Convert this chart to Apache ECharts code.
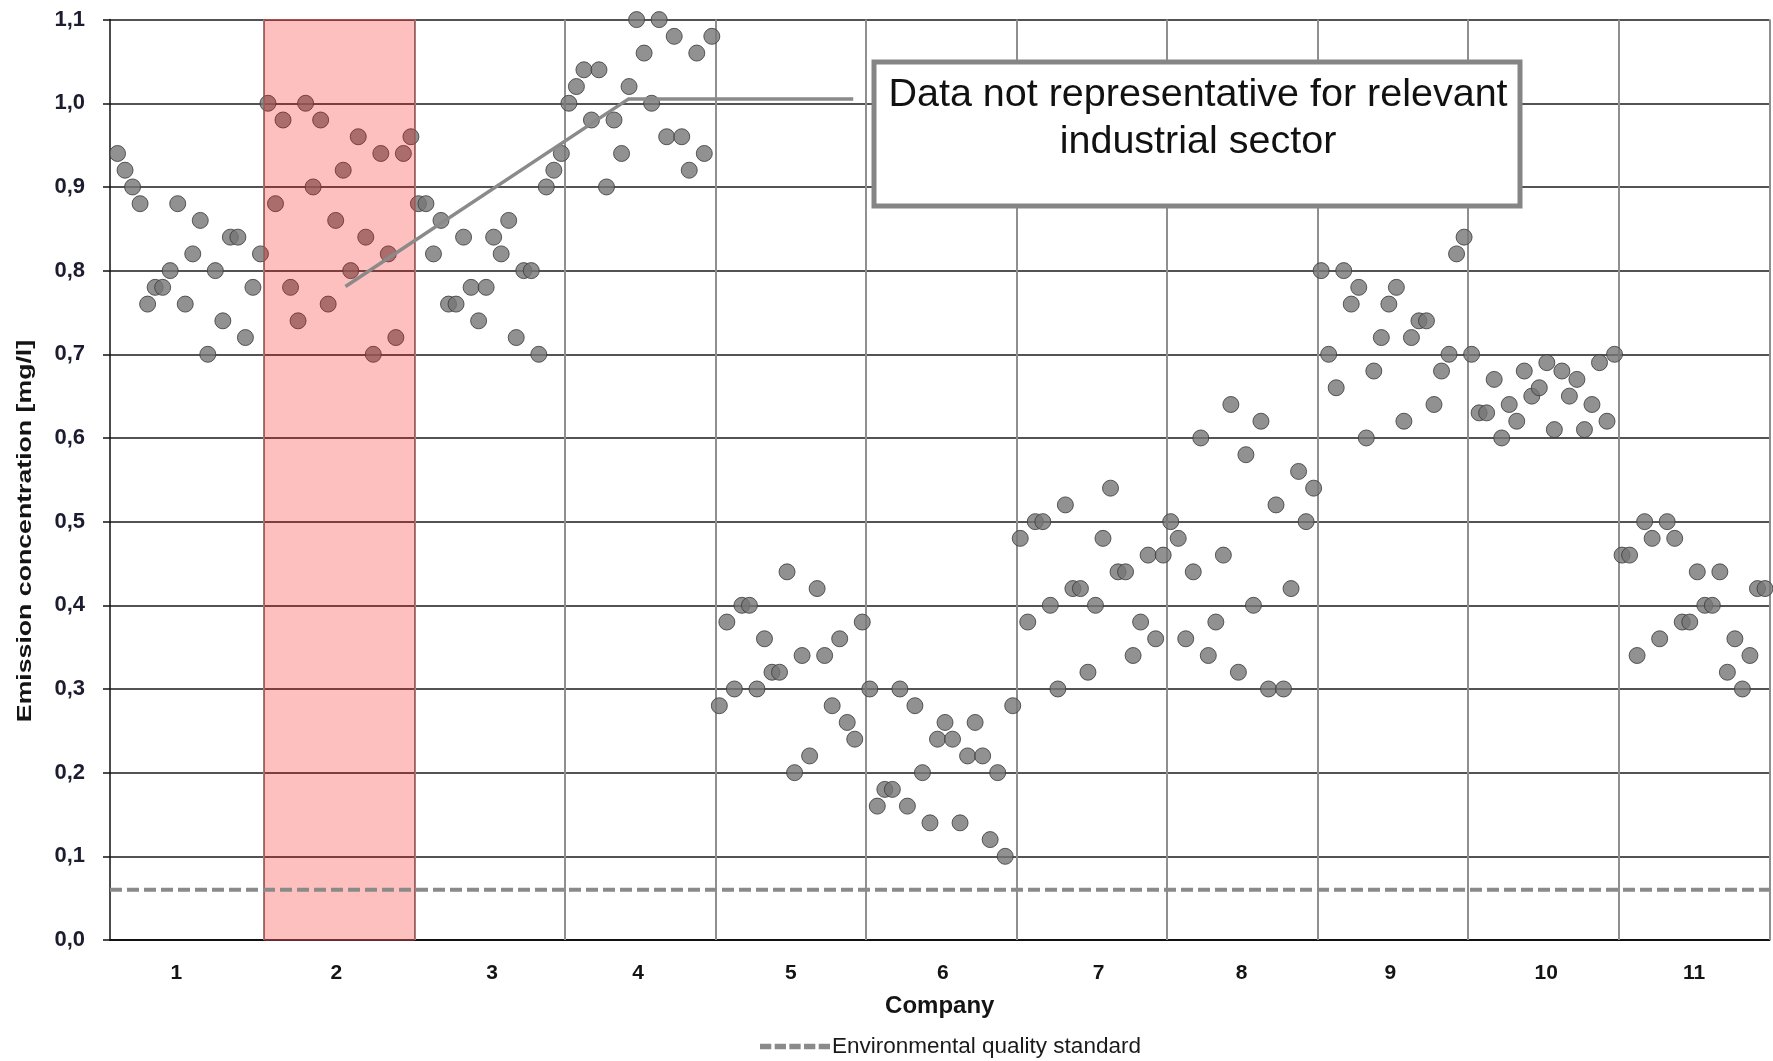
<!DOCTYPE html>
<html>
<head>
<meta charset="utf-8">
<title>Emission concentration by company</title>
<script src="https://cdn.jsdelivr.net/npm/echarts@6/dist/echarts.min.js"></script>
<style>
  html, body { margin: 0; padding: 0; background: #ffffff; }
  #chart { width: 1773px; height: 1061px; }
</style>
</head>
<body>
<div id="chart"></div>
<script>
// Company labels along the x axis
const companies = ['1', '2', '3', '4', '5', '6', '7', '8', '9', '10', '11'];

// Emission concentration measurements [mg/l], 20 samples per company
const company1  = [0.94, 0.92, 0.90, 0.88, 0.76, 0.78, 0.78, 0.80, 0.88, 0.76, 0.82, 0.86, 0.70, 0.80, 0.74, 0.84, 0.84, 0.72, 0.78, 0.82];
const company2  = [1.00, 0.88, 0.98, 0.78, 0.74, 1.00, 0.90, 0.98, 0.76, 0.86, 0.92, 0.80, 0.96, 0.84, 0.70, 0.94, 0.82, 0.72, 0.94, 0.96];
const company3  = [0.88, 0.88, 0.82, 0.86, 0.76, 0.76, 0.84, 0.78, 0.74, 0.78, 0.84, 0.82, 0.86, 0.72, 0.80, 0.80, 0.70, 0.90, 0.92, 0.94];
const company4  = [1.00, 1.02, 1.04, 0.98, 1.04, 0.90, 0.98, 0.94, 1.02, 1.10, 1.06, 1.00, 1.10, 0.96, 1.08, 0.96, 0.92, 1.06, 0.94, 1.08];
const company5  = [0.28, 0.38, 0.30, 0.40, 0.40, 0.30, 0.36, 0.32, 0.32, 0.44, 0.20, 0.34, 0.22, 0.42, 0.34, 0.28, 0.36, 0.26, 0.24, 0.38];
const company6  = [0.30, 0.16, 0.18, 0.18, 0.30, 0.16, 0.28, 0.20, 0.14, 0.24, 0.26, 0.24, 0.14, 0.22, 0.26, 0.22, 0.12, 0.20, 0.10, 0.28];
const company7  = [0.48, 0.38, 0.50, 0.50, 0.40, 0.30, 0.52, 0.42, 0.42, 0.32, 0.40, 0.48, 0.54, 0.44, 0.44, 0.34, 0.38, 0.46, 0.36, 0.46];
const company8  = [0.50, 0.48, 0.36, 0.44, 0.60, 0.34, 0.38, 0.46, 0.64, 0.32, 0.58, 0.40, 0.62, 0.30, 0.52, 0.30, 0.42, 0.56, 0.50, 0.54];
const company9  = [0.80, 0.70, 0.66, 0.80, 0.76, 0.78, 0.60, 0.68, 0.72, 0.76, 0.78, 0.62, 0.72, 0.74, 0.74, 0.64, 0.68, 0.70, 0.82, 0.84];
const company10 = [0.70, 0.63, 0.63, 0.67, 0.60, 0.64, 0.62, 0.68, 0.65, 0.66, 0.69, 0.61, 0.68, 0.65, 0.67, 0.61, 0.64, 0.69, 0.62, 0.70];
const company11 = [0.46, 0.46, 0.34, 0.50, 0.48, 0.36, 0.50, 0.48, 0.38, 0.38, 0.44, 0.40, 0.40, 0.44, 0.32, 0.36, 0.30, 0.34, 0.42, 0.42];

// Y axis tick values
const yTicks = [0, 0.1, 0.2, 0.3, 0.4, 0.5, 0.6, 0.7, 0.8, 0.9, 1.0, 1.1];

// Environmental quality standard [mg/l]
const qualityStandard = 0.06;

// Sample-index positions of the company separators and the axis end
const companyBounds = [20.5, 40.5, 60.5, 80.5, 100.5, 120.5, 140.5, 160.5, 180.5, 200.5];
const sampleAxisMax = 220.6;

// Company whose data is flagged (highlighted band)
const flaggedBand = [20.5, 40.5];

// Leader line from the flagged band to the note box (sample index, mg/l)
const noteLeader = [[31.3, 0.781], [68.9, 1.005], [98.8, 1.005]];

const noteText = 'Data not representative for relevant\nindustrial sector';
const yTitle = 'Emission concentration [mg/l]';

// ---- styling helpers (kept apart from the data)
const FONT = '"Liberation Sans", Arial, Helvetica, sans-serif';
// small horizontal nudges (px) of the company labels
const labelNudge = [-9, 0, 5, 0, 2, 3, 8, 0, -2, 3, 0];

// ---- build the scatter points: each company gets 20 consecutive sample slots
const allCompanies = [company1, company2, company3, company4, company5, company6,
                      company7, company8, company9, company10, company11];
const points = [];
allCompanies.forEach((values, c) => {
  values.forEach((v, j) => points.push([c * 20 + j + 1, v]));
});

const companyAxisData = companies.map((name, i) => {
  const d = labelNudge[i];
  return {
    value: name,
    textStyle: { padding: d >= 0 ? [0, 0, 0, 2 * d] : [0, -2 * d, 0, 0] }
  };
});

const chart = echarts.init(document.getElementById('chart'), null, { renderer: 'canvas' });

const option = {
  backgroundColor: '#ffffff',
  animation: false,
  textStyle: { fontFamily: FONT },
  grid: { left: 110, right: 3.5, top: 19.6, bottom: 121, containLabel: false },
  legend: {
    data: [{
      name: 'Environmental quality standard',
      icon: 'path://M0,0h10v5h-10zM13,0h10v5h-10zM26,0h10v5h-10zM39,0h10v5h-10zM52,0h10v5h-10z'
    }],
    left: 760,
    top: 1035,
    padding: 0,
    itemWidth: 70,
    itemHeight: 6,
    textStyle: { fontFamily: FONT, fontSize: 22.5, color: '#1a1a1a', padding: [0, 0, 0, -3] }
  },
  xAxis: [
    {
      type: 'value',
      min: 0,
      max: sampleAxisMax,
      axisLine: { show: true, lineStyle: { color: '#111111', width: 2 } },
      axisTick: { show: false },
      axisLabel: { show: false },
      splitLine: { show: false }
    },
    {
      type: 'category',
      data: companyAxisData,
      position: 'bottom',
      boundaryGap: true,
      axisLine: { show: false },
      axisTick: { show: false },
      splitLine: { show: false },
      axisLabel: {
        fontFamily: FONT, fontSize: 21, fontWeight: 'bold', color: '#141414', margin: 23
      },
      name: 'Company',
      nameLocation: 'middle',
      nameGap: 54,
      nameTextStyle: { fontFamily: FONT, fontSize: 24, fontWeight: 'bold', color: '#141414' }
    }
  ],
  yAxis: {
    type: 'value',
    min: 0,
    max: yTicks[yTicks.length - 1],
    interval: 0.1,
    axisLine: { show: true, lineStyle: { color: '#111111', width: 1.5 } },
    axisTick: { show: true, inside: false, length: 7, lineStyle: { color: '#111111', width: 1.5 } },
    axisLabel: {
      fontFamily: FONT, fontSize: 22, fontWeight: 'bold', color: '#1c1c30', margin: 25,
      formatter: v => v.toFixed(1).replace('.', ',')
    },
    splitLine: { show: true, lineStyle: { color: '#1a1a1a', width: 1.5 } }
  },
  series: [
    {
      // company separators and right plot border
      name: 'separators',
      type: 'line',
      data: [],
      silent: true,
      z: 1,
      markLine: {
        z: 1,
        silent: true,
        symbol: 'none',
        label: { show: false },
        lineStyle: { color: '#8f8f8f', width: 2, type: 'solid' },
        data: companyBounds.concat([sampleAxisMax]).map(x => ({ xAxis: x }))
      }
    },
    {
      name: 'Emission concentration',
      type: 'scatter',
      data: points,
      symbol: 'circle',
      symbolSize: 16,
      clip: false,
      z: 3,
      itemStyle: { color: '#757575', borderColor: '#383838', borderWidth: 1 }
    },
    {
      // flagged company band, drawn over its points
      name: 'flagged',
      type: 'line',
      data: [],
      silent: true,
      z: 4,
      markArea: {
        z: 4,
        silent: true,
        itemStyle: { color: 'rgba(250, 0, 0, 0.25)', borderColor: '#b05050', borderWidth: 1 },
        data: [[{ xAxis: flaggedBand[0], yAxis: 0 }, { xAxis: flaggedBand[1], yAxis: yTicks[yTicks.length - 1] }]]
      }
    },
    {
      name: 'Environmental quality standard',
      type: 'line',
      data: [[0, qualityStandard], [sampleAxisMax, qualityStandard]],
      symbol: 'none',
      silent: true,
      z: 5,
      lineStyle: { color: '#8a8a8a', width: 4, type: [12, 5] },
      itemStyle: { color: '#8a8a8a' }
    },
    {
      name: 'leader',
      type: 'line',
      data: noteLeader,
      symbol: 'none',
      silent: true,
      z: 6,
      lineStyle: { color: '#8a8a8a', width: 3.5 }
    }
  ],
  graphic: [
    {
      // y axis title, stretched along its baseline
      type: 'text',
      z: 50,
      x: 25,
      y: 531,
      rotation: Math.PI / 2,
      scaleX: 1.27,
      style: {
        text: yTitle,
        align: 'center',
        verticalAlign: 'middle',
        font: 'bold 21px "Liberation Sans", Arial, sans-serif',
        fill: '#141414'
      }
    },
    {
      type: 'rect',
      z: 100,
      shape: { x: 874, y: 62, width: 646, height: 144 },
      style: { fill: '#ffffff', stroke: '#858585', lineWidth: 5 }
    },
    {
      type: 'text',
      z: 101,
      x: 1198,
      y: 71,
      style: {
        text: noteText,
        align: 'center',
        verticalAlign: 'top',
        font: '39.5px "Liberation Sans", Arial, sans-serif',
        lineHeight: 47.5,
        fill: '#111111'
      }
    }
  ]
};

chart.setOption(option);
</script>
</body>
</html>
